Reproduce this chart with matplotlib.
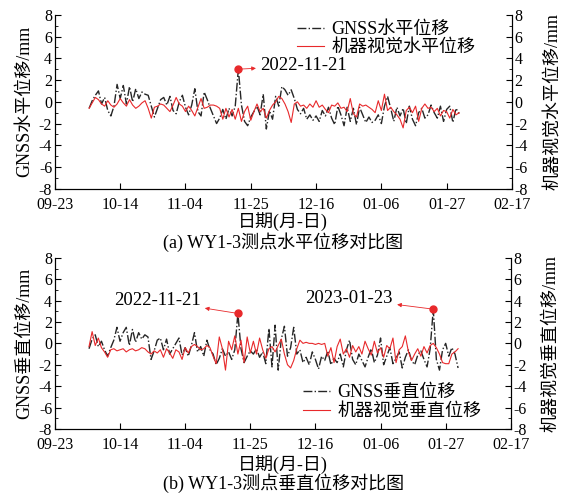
import numpy as np
import pandas as pd
import matplotlib
matplotlib.use('Agg')
import matplotlib.pyplot as plt
import matplotlib.dates as mdates
from matplotlib.ticker import MultipleLocator

plt.rcParams['font.family'] = ['Liberation Serif', 'Noto Sans CJK SC']
plt.rcParams['axes.unicode_minus'] = False

# daily records, 2022-10-04 .. 2023-01-31
start_date = '2022-10-04'

h_gnss = [-0.6, 0.1, 0.6, 1.0, -0.2, 0.4, -0.8, -1.3, -0.4, 1.6,
          0.3, 1.5, -0.2, 1.4, 0.0, 1.2, 0.3, 0.9, 0.7, 0.6,
          -0.4, -1.4, -0.6, 0.2, 0.4, -0.3, 0.5, -0.8, -1.1, 0.0,
          0.6, -0.5, -1.2, -0.3, 1.2, -0.9, -1.3, 0.9, 0.2, -0.6,
          -1.3, -2.0, -1.5, -0.7, -1.6, -0.6, -1.3, -0.4, 3.0, -0.3,
          -1.8, -2.2, -1.4, -0.9, -0.4, -1.2, 0.7, -2.5, -0.8, -1.6,
          0.5, -0.4, 1.4, 1.1, 0.6, 1.1, 0.3, -0.7, -1.1, -0.6,
          -1.6, -1.2, -1.7, -1.3, -1.8, -0.8, -1.3, -0.5, -1.5, -2.1,
          -0.4, -1.2, -2.2, -0.5, -1.8, -0.6, -2.1, -0.5, -1.2, -1.9,
          -1.4, -1.9, -1.7, -1.2, -2.0, -0.4, 0.5, -0.6, -1.8, -0.5,
          -1.3, -0.6, -2.0, -0.4, -1.6, -2.2, -1.0, -0.6, -1.5, -1.2,
          -0.3, -1.0, -1.5, -0.4, -1.8, -0.7, -0.4, -1.9, -0.6, -1.1]

h_cv = [-0.6, -0.1, 0.4, 0.2, -0.2, -0.4, 0.1, -0.3, -0.5, -0.2,
        0.3, -0.1, -0.4, 0.2, -0.3, -0.6, -0.4, -0.1, 0.1, -0.6,
        -1.5, -0.5, -0.4, -0.2, -0.3, -0.6, -0.9, -0.3, 0.4, -0.2,
        -0.4, -0.9, -0.4, -0.8, -1.3, -0.5, 0.3, -0.6, -0.5, -0.3,
        -0.3, -0.4, -0.6, -1.6, -0.6, -1.4, -0.7, -1.6, -0.6, -1.8,
        -0.9, -0.4, -1.7, -0.9, -0.2, -0.9, -0.6, -1.5, -0.8, -0.3,
        0.0, 0.5, 0.3, -0.2, -0.9, -1.9, -0.2, 0.0, -0.4, -0.3,
        -0.6, -0.2, -0.5, 0.1, -0.5, -0.3, -0.7, -1.0, -0.3, -0.4,
        -0.1, -0.6, -0.5, -0.9, 0.3, -1.1, -1.4, -0.2, -0.4, -0.3,
        -0.5, -0.7, -1.0, 0.1, -0.8, 0.7, -0.8, -0.5, -0.9, -1.2,
        -1.6, -2.4, -0.8, -0.5, -1.0, -0.4, -1.8, -0.6, -0.2, -0.6,
        -0.5, -0.9, -0.6, -1.3, -0.8, -0.9, -1.5, -0.7, -1.2, -1.0]

v_gnss = [-0.5, 0.4, 0.8, -0.3, 0.2, -0.6, -1.2, -0.4, 0.3, 1.5,
          0.2, 1.0, 1.5, -0.2, 1.3, 0.1, 1.0, 0.4, 0.8, 0.6,
          -1.5, -0.7, 0.3, 0.5, -0.6, 0.4, -1.0, -0.5, 0.0, 0.5,
          -1.1, -0.4, -1.2, -0.2, 1.0, -0.8, -0.3, -1.2, 0.3, -0.6,
          -1.0, -2.0, -1.4, -0.5, -1.2, -0.8, -1.5, -0.6, 2.8, -0.5,
          -1.8, -1.2, -0.7, -1.0, -0.5, -1.3, -0.8, -1.9, 1.4, -2.2,
          1.7, -2.5, 0.4, 1.6, -1.2, -0.4, 1.5, -1.0, -0.6, -1.8,
          -1.3, -2.0, -0.8, -1.5, -2.4, -1.2, -1.6, -0.7, -2.0, -1.4,
          -1.8, -1.0, -2.2, -0.6, 0.3, -1.5, -2.0, -1.0, -1.6, -2.2,
          -1.3, -0.5, -1.8, -1.1, 0.5, -2.0, -1.2, -0.4, -1.9, -1.4,
          -0.8, -2.3, -1.3, -0.6, -1.6, -2.0, -1.1, -0.7, -1.5, -2.2,
          -0.5, 3.2, -1.5, -2.5, -0.6, 0.0, -1.2, -0.4, -1.0, -2.3]

v_cv = [-0.3, 1.1, -0.2, 0.5, -0.4, -0.8, -1.3, -0.6, -0.5, -0.7,
        -0.6, -0.5, -0.8, -0.6, -0.5, -0.7, -0.6, -0.4, -0.5, -0.8,
        -1.0, -0.7, -0.9, -0.6, -1.3, -0.5, -0.9, -1.4, -0.6, -0.8,
        -1.5, -0.4, -0.9, -0.3, -0.1, -0.3, -0.6, -0.5, -0.2, -0.4,
        -1.2, -1.9, 0.6, -0.5, -2.5, 0.2, -0.6, 0.7, -1.0, 0.3,
        -1.8, 0.6, -0.9, 0.2, -1.0, 0.5, -0.6, -1.4, -0.5, -0.3,
        -0.8, -0.2, 0.4, -1.0, -2.0, -2.3, -1.6, -0.5, 0.3, 0.0,
        0.1, 0.0, 0.0, -0.1, 0.0, -0.1, 0.0, -1.2, -0.4, -1.8,
        -0.3, 0.4, -1.0, -0.5, -1.3, -0.2, -0.8, -0.3, -1.0, 0.2,
        -0.5, -1.1, 0.2, -0.9, -0.4, -1.3, -0.2, -0.5, 0.5, -1.8,
        -0.6, -0.3, 0.7, -0.8, -1.6, -1.0, -0.5, -1.2, -0.3, -0.9,
        -0.2, 0.0, -0.4, -1.0, -1.8, -1.9, -1.9, -1.0, -0.8, -0.5]

dates = pd.date_range(start_date, periods=len(h_gnss), freq='D')
tick_dates = pd.date_range('2022-09-23', '2023-02-17', freq='21D')

gnss_color = '#262626'
cv_color = '#e8292b'
fs_tick = 11.5
fs_lab = 13
fs_ann = 13.5


def style_axes(ax, ax2):
    for a in (ax, ax2):
        a.set_ylim(-8, 8)
        a.yaxis.set_major_locator(MultipleLocator(2))
        a.yaxis.set_minor_locator(MultipleLocator(1))
        a.tick_params(axis='y', which='major', direction='in', length=4, labelsize=fs_tick, pad=2)
        a.tick_params(axis='y', which='minor', direction='in', length=2)
        a.spines['top'].set_visible(False)
    ax.set_xlim(pd.Timestamp('2022-09-23'), pd.Timestamp('2023-02-17'))
    ax.set_xticks(tick_dates)
    ax.xaxis.set_major_formatter(mdates.DateFormatter('%m-%d'))
    ax.tick_params(axis='x', direction='in', length=4, labelsize=fs_tick, pad=6)


fig = plt.figure(figsize=(5.72, 4.93), dpi=100)

# (a) horizontal
ax = fig.add_axes([0.096, 0.617, 0.799, 0.353])
ax2 = ax.twinx()
l1, = ax.plot(dates, h_gnss, '-.', color=gnss_color, lw=1.0, label='GNSS水平位移')
l2, = ax2.plot(dates, h_cv, '-', color=cv_color, lw=0.8, label='机器视觉水平位移')
style_axes(ax, ax2)
ax.set_ylabel('GNSS水平位移/mm', fontsize=fs_lab, labelpad=4)
ax2.set_ylabel('机器视觉水平位移/mm', fontsize=fs_lab, labelpad=12)
ax.legend([l1, l2], [l1.get_label(), l2.get_label()], loc='upper left',
          bbox_to_anchor=(0.53, 0.965), frameon=False, fontsize=fs_lab,
          handlelength=1.5, handletextpad=0.4, labelspacing=0.1,
          borderpad=0, borderaxespad=0)

d1 = pd.Timestamp('2022-11-21')
ax.plot(d1, 3.0, 'o', color=cv_color, ms=5)
ax.annotate('2022-11-21', xy=(d1, 3.0), xytext=(pd.Timestamp('2022-11-28'), 3.3),
            fontsize=fs_ann, ha='left', va='center',
            arrowprops=dict(arrowstyle='<|-', color=cv_color, lw=0.6,
                            mutation_scale=6, shrinkA=1, shrinkB=2))
fig.text(0.495, 0.551, '日期(月-日)', ha='center', va='center', fontsize=fs_lab)
fig.text(0.495, 0.509, '(a) WY1-3测点水平位移对比图', ha='center', va='center', fontsize=fs_lab)

# (b) vertical
bx = fig.add_axes([0.096, 0.130, 0.797, 0.347])
bx2 = bx.twinx()
m1, = bx.plot(dates, v_gnss, '-.', color=gnss_color, lw=1.0, label='GNSS垂直位移')
m2, = bx2.plot(dates, v_cv, '-', color=cv_color, lw=0.8, label='机器视觉垂直位移')
style_axes(bx, bx2)
bx.set_ylabel('GNSS垂直位移/mm', fontsize=fs_lab, labelpad=4)
bx2.set_ylabel('机器视觉垂直位移/mm', fontsize=fs_lab, labelpad=12)
bx.legend([m1, m2], [m1.get_label(), m2.get_label()], loc='upper left',
          bbox_to_anchor=(0.545, 0.26), frameon=False, fontsize=fs_lab,
          handlelength=1.5, handletextpad=0.4, labelspacing=0.1,
          borderpad=0, borderaxespad=0)

d2 = pd.Timestamp('2023-01-23')
bx.plot(d1, 2.8, 'o', color=cv_color, ms=5)
bx.plot(d2, 3.2, 'o', color=cv_color, ms=5)
bx.annotate('2022-11-21', xy=(d1, 2.8), xytext=(pd.Timestamp('2022-11-09'), 4.0),
            fontsize=fs_ann, ha='right', va='center',
            arrowprops=dict(arrowstyle='<|-', color=cv_color, lw=0.6,
                            mutation_scale=6, shrinkA=1, shrinkB=2))
bx.annotate('2023-01-23', xy=(d2, 3.2), xytext=(pd.Timestamp('2023-01-10'), 4.2),
            fontsize=fs_ann, ha='right', va='center',
            arrowprops=dict(arrowstyle='<|-', color=cv_color, lw=0.6,
                            mutation_scale=6, shrinkA=1, shrinkB=2))
fig.text(0.495, 0.058, '日期(月-日)', ha='center', va='center', fontsize=fs_lab)
fig.text(0.495, 0.020, '(b) WY1-3测点垂直位移对比图', ha='center', va='center', fontsize=fs_lab)

fig.savefig('out.png', dpi=100)
